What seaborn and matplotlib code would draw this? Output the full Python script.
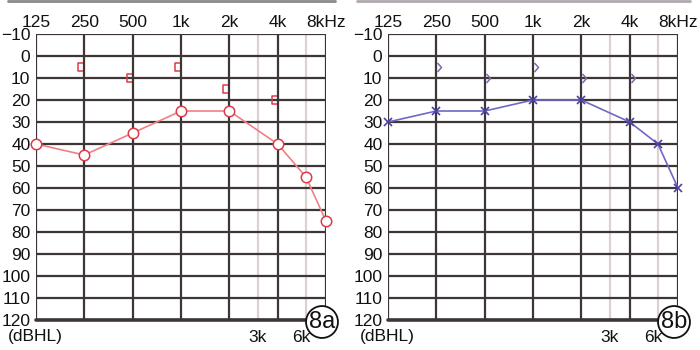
import matplotlib
matplotlib.use("Agg")
import matplotlib.pyplot as plt
import seaborn as sns
import pandas as pd
from matplotlib.path import Path
from matplotlib.markers import MarkerStyle
from matplotlib.lines import Line2D

# ---------------- data ----------------
octave_freqs = [125, 250, 500, 1000, 2000, 4000, 8000]
octave_labels = ["125", "250", "500", "1k", "2k", "4k", "8kHz"]
mid_freqs = [3000, 6000]
mid_labels = ["3k", "6k"]
db_ticks = [-10, 0, 10, 20, 30, 40, 50, 60, 70, 80, 90, 100, 110, 120]
db_labels = ["\u221210", "0", "10", "20", "30", "40", "50", "60", "70", "80",
             "90", "100", "110", "120"]

ac_freqs = [125, 250, 500, 1000, 2000, 4000, 6000, 8000]
ac_8a = [40, 45, 35, 25, 25, 40, 55, 75]
ac_8b = [30, 25, 25, 20, 20, 30, 40, 60]
bc_freqs = [250, 500, 1000, 2000, 4000]
bc_8a = [5, 10, 5, 15, 20]
bc_8b = [5, 10, 5, 10, 10]
panel_labels = ["8a", "8b"]

# ---------------- style ----------------
sns.set_theme(style="white")
plt.rcParams["font.family"] = ["Liberation Sans", "DejaVu Sans"]

GRID = "#3e3636"
LIGHT = "#dcd0d0"
RED_LINE = "#f08084"
RED = "#dc3a48"
BLUE_LINE = "#7068c4"
BLUE = "#4a40a8"
BLUE_BC = "#7a6aa8"
TXT = "#111111"
FS = 12.5

bracket = MarkerStyle(Path([(-1, 4.5), (-6, 4.5), (-6, -4.5), (-1, -4.5)]))
chevron = MarkerStyle(Path([(1, 4.5), (5, 0), (1, -4.5)]))

fig = plt.figure(figsize=(7, 3.5), dpi=100)
W, H = 700, 350
axes_px = [(36, 290), (388, 290)]
top_px, bot_px = 34, 320
ah = bot_px - top_px

df_a = pd.DataFrame({"f": ac_freqs, "db": ac_8a})
df_b = pd.DataFrame({"f": ac_freqs, "db": ac_8b})
bc_a = pd.DataFrame({"f": bc_freqs, "db": bc_8a})
bc_b = pd.DataFrame({"f": bc_freqs, "db": bc_8b})

specs = [
    (df_a, bc_a, RED_LINE, RED, "o", 7.5, bracket, 8.6, RED, panel_labels[0]),
    (df_b, bc_b, BLUE_LINE, BLUE, "x", 5.5, chevron, 7.2, BLUE_BC, panel_labels[1]),
]

for (x0, w), (ac, bc, lc, mc, mk, ms, bmk, bms, bc_col, plabel) in zip(axes_px, specs):
    ax = fig.add_axes([x0 / W, (H - bot_px) / H, w / W, ah / H])
    ax.set_xscale("log", base=2)
    ax.set_xlim(125, 8000)
    ax.set_ylim(120, -10)

    # grid
    for d in db_ticks:
        ax.axhline(d, color=GRID, lw=1.6, zorder=1)
    for f in mid_freqs:
        ax.axvline(f, color=LIGHT, lw=1.6, zorder=0.9)
    for f in octave_freqs:
        ax.axvline(f, color=GRID, lw=1.6, zorder=1)
    for s in ax.spines.values():
        s.set_visible(False)
    ax.axhline(120, color=GRID, lw=2.6, zorder=1, clip_on=False)

    # air conduction
    if mk == "o":
        sns.lineplot(data=ac, x="f", y="db", ax=ax, color=lc, lw=1.2,
                     marker="o", markersize=ms, markerfacecolor="white",
                     markeredgecolor=mc, markeredgewidth=1.1, zorder=5,
                     clip_on=False)
    else:
        sns.lineplot(data=ac, x="f", y="db", ax=ax, color=lc, lw=1.2,
                     marker="x", markersize=ms, markeredgecolor=mc,
                     markeredgewidth=1.2, zorder=5, clip_on=False)
    # bone conduction
    sns.lineplot(data=bc, x="f", y="db", ax=ax, color=bc_col, linestyle="none",
                 marker=bmk, markersize=bms, markerfacecolor="none",
                 markeredgecolor=bc_col, markeredgewidth=1.1, zorder=5)

    ax.set_xlabel("")
    ax.set_ylabel("")
    ax.xaxis.tick_top()
    ax.set_xticks(octave_freqs)
    ax.set_xticklabels(octave_labels)
    ax.minorticks_off()
    ax.set_xticks([], minor=True)
    ax.set_yticks(db_ticks)
    ax.set_yticklabels(db_labels)
    ax.tick_params(axis="both", length=0, labelsize=FS, colors=TXT)
    ax.tick_params(axis="x", pad=3)
    ax.tick_params(axis="y", pad=4)

    ylab = -(337 - bot_px) / ah
    tr = ax.get_xaxis_transform()
    ax.text(3000, ylab, mid_labels[0], transform=tr, ha="center", va="center",
            fontsize=FS, color=TXT)
    ax.text(5580, ylab, mid_labels[1], transform=tr, ha="center", va="center",
            fontsize=FS, color=TXT)
    ax.text(-28 / w, ylab, "(dBHL)", transform=ax.transAxes, ha="left",
            va="center", fontsize=FS, color=TXT)

    fig.text((x0 + w - 4) / W, (H - 322) / H, plabel, ha="center", va="center",
             fontsize=17, color=TXT,
             bbox=dict(boxstyle="circle,pad=0.12", fc="white", ec=TXT, lw=1.3),
             zorder=10)

# scan artifact line at top
fig.add_artist(Line2D([8 / W, 335 / W], [0.997, 0.997], color="#8a8a8a", lw=2))
fig.add_artist(Line2D([357 / W, 690 / W], [0.997, 0.997], color="#b0a8b0", lw=2))

fig.savefig("out.png", dpi=100)
